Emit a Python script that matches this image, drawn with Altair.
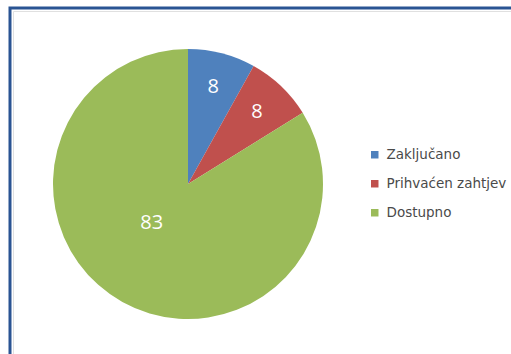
import altair as alt
import pandas as pd

categories = ["Zaključano", "Prihvaćen zahtjev", "Dostupno"]
values = [8, 8, 83]
colors = ["#4F81BD", "#C0504D", "#9BBB59"]

df = pd.DataFrame({"cat": categories, "val": values, "ord": [0, 1, 2]})

W, H = 511, 354
CX, CY, R = 188, 184, 135

color = alt.Color("cat:N", scale=alt.Scale(domain=categories, range=colors),
                  legend=alt.Legend(title=None, orient="none", legendX=368, legendY=148,
                                    symbolType="square", symbolSize=56, symbolStrokeWidth=0,
                                    labelFontSize=13.5, labelFont="DejaVu Sans", labelColor="#4a4a4a",
                                    rowPadding=14, labelOffset=5))

base = alt.Chart(df)

frame = alt.Chart(pd.DataFrame({"a": [0]})).mark_rect(
    fill="white", stroke="#2a5493", strokeWidth=3
).encode(x=alt.value(10), x2=alt.value(W + 20), y=alt.value(8), y2=alt.value(H + 20))

inner = alt.Chart(pd.DataFrame({"a": [0]})).mark_rect(
    fill="white", stroke="#e0e0e0", strokeWidth=1
).encode(x=alt.value(13.5), x2=alt.value(W + 20), y=alt.value(11.5), y2=alt.value(H + 20))

pie = base.mark_arc(radius=R, stroke=None).encode(
    theta=alt.Theta("val:Q", stack=True),
    order=alt.Order("ord:Q"),
    color=color,
    x=alt.value(CX), y=alt.value(CY),
)

small = base.transform_filter(alt.datum.val < 50).mark_text(
    radius=100, fontSize=20, font="Open Sans", color="white"
).encode(
    theta=alt.Theta("val:Q", stack=True),
    order=alt.Order("ord:Q"),
    text="val:Q",
    x=alt.value(CX), y=alt.value(CY),
)

big = alt.Chart(df).mark_text(
    radius=58, fontSize=20, font="Open Sans", color="white", dx=-8, dy=-12
).encode(
    theta=alt.Theta("val:Q", stack=True),
    order=alt.Order("ord:Q"),
    text=alt.condition(alt.datum.val > 50, "val:Q", alt.value("")),
    x=alt.value(CX), y=alt.value(CY),
)

chart = alt.layer(frame, inner, pie, small, big).properties(
    width=W, height=H, autosize=alt.AutoSizeParams(type="none"), padding=0,
    background="white"
).configure_view(stroke=None)

chart.save("out.html", embed_options={"renderer": "svg", "actions": False})
